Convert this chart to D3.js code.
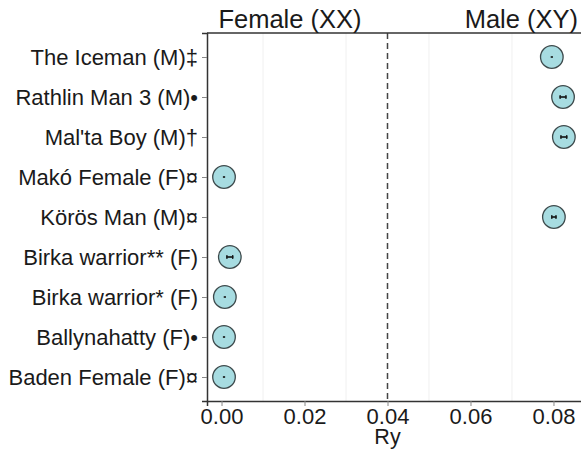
<!DOCTYPE html>
<html>
<head>
<meta charset="utf-8">
<script src="https://cdn.jsdelivr.net/npm/d3@7"></script>
<style>
  html, body { margin: 0; padding: 0; background: #fff; }
  svg { display: block; font-family: "Liberation Sans", Arial, Helvetica, sans-serif; }
</style>
</head>
<body>
<svg id="chart" width="581" height="450"></svg>
<script>
const categories = ["The Iceman (M)‡", "Rathlin Man 3 (M)•", "Mal'ta Boy (M)†", "Makó Female (F)¤", "Körös Man (M)¤", "Birka warrior** (F)", "Birka warrior* (F)", "Ballynahatty (F)•", "Baden Female (F)¤"];
const ryValues = [0.0796, 0.0823, 0.0825, 0.0006, 0.0801, 0.0020, 0.0008, 0.0006, 0.0006];
const ciHalf = [0.0001, 0.0007, 0.0007, 0.0001, 0.0005, 0.0007, 0.0001, 0.0001, 0.0001];
const xTicks = [0.00, 0.02, 0.04, 0.06, 0.08];
const minorTicks = [0.01, 0.03, 0.05, 0.07];
const threshold = 0.04;
const groupLabels = ["Female (XX)", "Male (XY)"];
const xTitle = "Ry";

const svg = d3.select("#chart");
const pL = 207, pT = 33, pB = 401, pR = 590;

const x = d3.scaleLinear().domain([-0.0035, 0.0888]).range([pL, pR]);
const y = d3.scalePoint().domain(categories).range([pT, pB]).padding(0.6);

// minor grid
svg.append("g").selectAll("line").data(minorTicks).join("line")
  .attr("x1", d => x(d)).attr("x2", d => x(d))
  .attr("y1", pT).attr("y2", pB)
  .attr("stroke", "#f0f0f0").attr("stroke-width", 1);

// threshold dashed line
svg.append("line")
  .attr("x1", x(threshold)).attr("x2", x(threshold))
  .attr("y1", pT).attr("y2", pB)
  .attr("stroke", "#444").attr("stroke-width", 1.5)
  .attr("stroke-dasharray", "6,4");

// panel top border
svg.append("line").attr("x1", pL).attr("x2", pR).attr("y1", pT).attr("y2", pT)
  .attr("stroke", "#333").attr("stroke-width", 1.5);

// axes
const xAxis = svg.append("g").attr("transform", `translate(0,${pB})`)
  .call(d3.axisBottom(x).tickValues(xTicks).tickFormat(d3.format(".2f")).tickSize(5).tickPadding(2));
xAxis.select(".domain").attr("stroke", "#333").attr("stroke-width", 1.5);
xAxis.selectAll(".tick line").attr("stroke", "#888");
xAxis.selectAll(".tick text").attr("font-size", 22).attr("fill", "#1a1a1a")
  .attr("font-family", "Liberation Sans, Arial, sans-serif");

const yAxis = svg.append("g").attr("transform", `translate(${pL},0)`)
  .call(d3.axisLeft(y).tickSize(5).tickPadding(4));
yAxis.select(".domain").attr("stroke", "#333").attr("stroke-width", 1.5);
yAxis.selectAll(".tick line").attr("stroke", "#888");
yAxis.selectAll(".tick text").attr("font-size", 22).attr("fill", "#1a1a1a")
  .attr("font-family", "Liberation Sans, Arial, sans-serif");

// points
const pts = svg.append("g").selectAll("g").data(categories).join("g")
  .attr("transform", d => `translate(0,${y(d)})`);
pts.append("circle")
  .attr("cx", (d, i) => x(ryValues[i])).attr("cy", 0).attr("r", 11.3)
  .attr("fill", "#a7dce1").attr("stroke", "#3d4a4c").attr("stroke-width", 1.3);
pts.append("line")
  .attr("x1", (d, i) => x(ryValues[i] - ciHalf[i]) - 0.7)
  .attr("x2", (d, i) => x(ryValues[i] + ciHalf[i]) + 0.7)
  .attr("y1", 0).attr("y2", 0)
  .attr("stroke", "#111").attr("stroke-width", 1.6);
pts.each(function(d, i) {
  if (ciHalf[i] <= 0.0003) return;
  const g = d3.select(this);
  [ryValues[i] - ciHalf[i], ryValues[i] + ciHalf[i]].forEach(v => {
    g.append("line").attr("x1", x(v)).attr("x2", x(v)).attr("y1", -2).attr("y2", 2)
      .attr("stroke", "#111").attr("stroke-width", 1.2);
  });
});

// group labels on top
svg.append("text").attr("x", 290).attr("y", 28).attr("text-anchor", "middle")
  .attr("font-size", 25.5).attr("fill", "#1a1a1a").text(groupLabels[0]);
svg.append("text").attr("x", 578).attr("y", 28).attr("text-anchor", "end")
  .attr("font-size", 25.5).attr("fill", "#1a1a1a").text(groupLabels[1]);

// x title
svg.append("text").attr("x", x(threshold)).attr("y", 444).attr("text-anchor", "middle")
  .attr("font-size", 21.5).attr("fill", "#1a1a1a").text(xTitle);
</script>
</body>
</html>
